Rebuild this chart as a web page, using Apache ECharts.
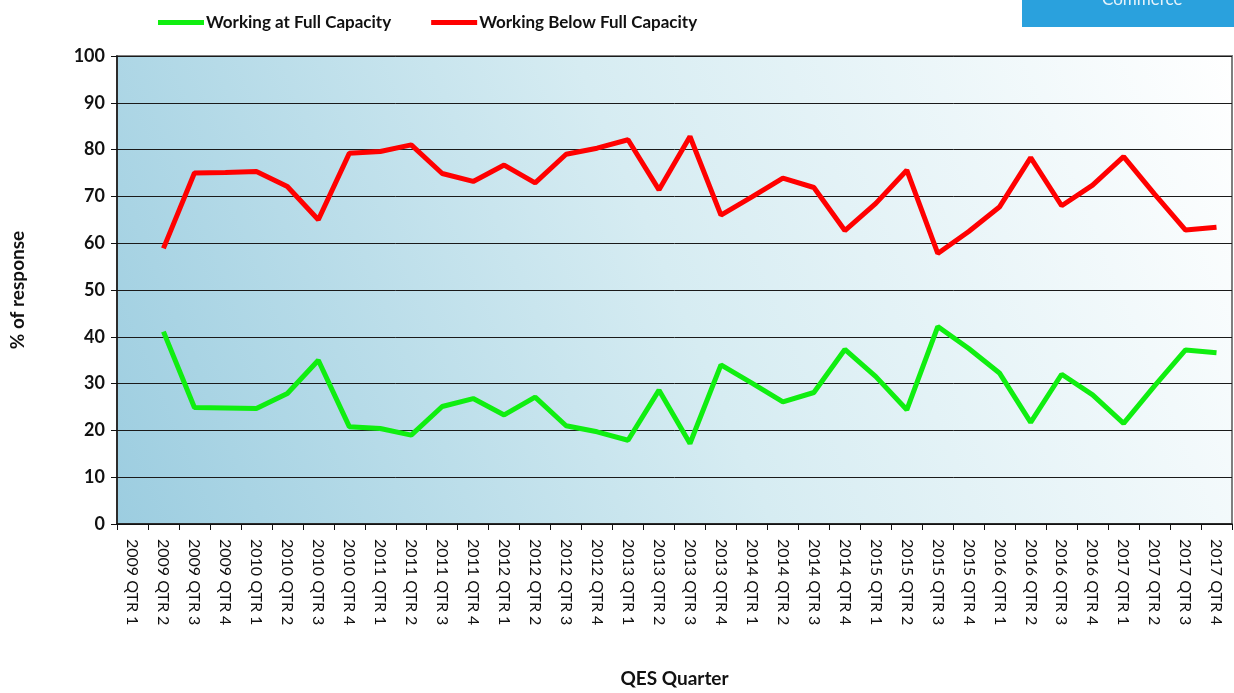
<!DOCTYPE html>
<html>
<head>
<meta charset="utf-8">
<title>QES Capacity</title>
<script src="https://cdn.jsdelivr.net/npm/echarts@6/dist/echarts.min.js"></script>
<style>
  html, body { margin: 0; padding: 0; background: #fff; }
  #chart { width: 1234px; height: 693px; }
</style>
</head>
<body>
<div id="chart"></div>
<script>
// quarters on the x axis
const quarters = [
  '2009 QTR 1', '2009 QTR 2', '2009 QTR 3', '2009 QTR 4',
  '2010 QTR 1', '2010 QTR 2', '2010 QTR 3', '2010 QTR 4',
  '2011 QTR 1', '2011 QTR 2', '2011 QTR 3', '2011 QTR 4',
  '2012 QTR 1', '2012 QTR 2', '2012 QTR 3', '2012 QTR 4',
  '2013 QTR 1', '2013 QTR 2', '2013 QTR 3', '2013 QTR 4',
  '2014 QTR 1', '2014 QTR 2', '2014 QTR 3', '2014 QTR 4',
  '2015 QTR 1', '2015 QTR 2', '2015 QTR 3', '2015 QTR 4',
  '2016 QTR 1', '2016 QTR 2', '2016 QTR 3', '2016 QTR 4',
  '2017 QTR 1', '2017 QTR 2', '2017 QTR 3', '2017 QTR 4'
]

// % working at full capacity (no figure for 2009 QTR 1)
const fullCapacity = [
  null, 41.1, 24.9, 24.8, 24.7, 27.9, 35.0, 20.8,
  20.4, 19.0, 25.1, 26.8, 23.3, 27.1, 21.0, 19.7,
  17.9, 28.6, 17.2, 34.0, 30.1, 26.1, 28.1, 37.3,
  31.5, 24.4, 42.2, 37.5, 32.2, 21.7, 32.0, 27.6,
  21.5, 29.5, 37.2, 36.6
]

// % working below full capacity
const belowCapacity = [
  null, 58.9, 75.0, 75.1, 75.3, 72.1, 65.0, 79.2,
  79.6, 81.0, 74.9, 73.2, 76.7, 72.9, 79.0, 80.3,
  82.1, 71.4, 82.8, 66.0, 69.9, 73.9, 71.9, 62.7,
  68.5, 75.6, 57.8, 62.5, 67.8, 78.3, 68.0, 72.4,
  78.5, 70.5, 62.8, 63.4
]

const yTicks = { min: 0, max: 100, step: 10 }

const font = 'Lato, "Open Sans", sans-serif'

const myChart = echarts.init(document.getElementById('chart'))

const option = {
  animation: false,
  textStyle: { fontFamily: font },
  graphic: [
    // logo block in the top right corner (cut off in the source)
    {
      type: 'rect',
      left: 1022, top: 0,
      shape: { width: 212, height: 27 },
      style: { fill: '#2aa1dd' }
    },
    {
      type: 'text',
      left: 1102, top: -9,
      style: { text: 'Commerce', fill: '#e6f3fb', fontSize: 17, fontFamily: font }
    }
  ],
  legend: {
    top: 9,
    left: 153,
    itemGap: 40,
    itemWidth: 46,
    itemHeight: 5,
    icon: 'rect',
    textStyle: { fontSize: 17, fontWeight: 'bold', color: '#111', padding: [0, 0, 0, -3] },
    data: ['Working at Full Capacity', 'Working Below Full Capacity']
  },
  grid: {
    left: 117,
    right: 2,
    top: 56,
    bottom: 169,
    outerBoundsMode: 'none',
    containLabel: false,
    show: true,
    borderColor: '#7f7f7f',
    borderWidth: 2,
    backgroundColor: new echarts.graphic.LinearGradient(0, 1, 1, 0, [
      { offset: 0, color: '#9ccde0' },
      { offset: 0.5, color: '#d6ecf2' },
      { offset: 1, color: '#ffffff' }
    ])
  },
  xAxis: {
    type: 'category',
    data: quarters,
    boundaryGap: true,
    name: 'QES Quarter',
    nameLocation: 'middle',
    nameGap: 145,
    nameTextStyle: { fontSize: 19, fontWeight: 'bold', color: '#111' },
    axisLine: { lineStyle: { color: '#111', width: 1.5 } },
    axisTick: { show: true, length: 6, lineStyle: { color: '#111' } },
    axisLabel: {
      rotate: -90,
      interval: 0,
      margin: 15,
      fontSize: 16,
      color: '#111'
    }
  },
  yAxis: {
    type: 'value',
    min: yTicks.min,
    max: yTicks.max,
    interval: yTicks.step,
    name: '% of response',
    nameLocation: 'middle',
    nameGap: 90,
    nameTextStyle: { fontSize: 19, fontWeight: 'bold', color: '#111' },
    axisLine: { show: true, lineStyle: { color: '#111', width: 1.5 } },
    axisTick: { show: true, length: 6, lineStyle: { color: '#111' } },
    axisLabel: { fontSize: 18, fontWeight: 'bold', color: '#111', margin: 12 },
    splitLine: { lineStyle: { color: '#1a1a1a', width: 1 } }
  },
  series: [
    {
      name: 'Working at Full Capacity',
      type: 'line',
      data: fullCapacity,
      showSymbol: false,
      symbol: 'none',
      color: '#10ee10',
      lineStyle: { width: 5, color: '#10ee10' }
    },
    {
      name: 'Working Below Full Capacity',
      type: 'line',
      data: belowCapacity,
      showSymbol: false,
      symbol: 'none',
      color: '#ff0000',
      lineStyle: { width: 5, color: '#ff0000' }
    }
  ]
}

myChart.setOption(option)
</script>
</body>
</html>
